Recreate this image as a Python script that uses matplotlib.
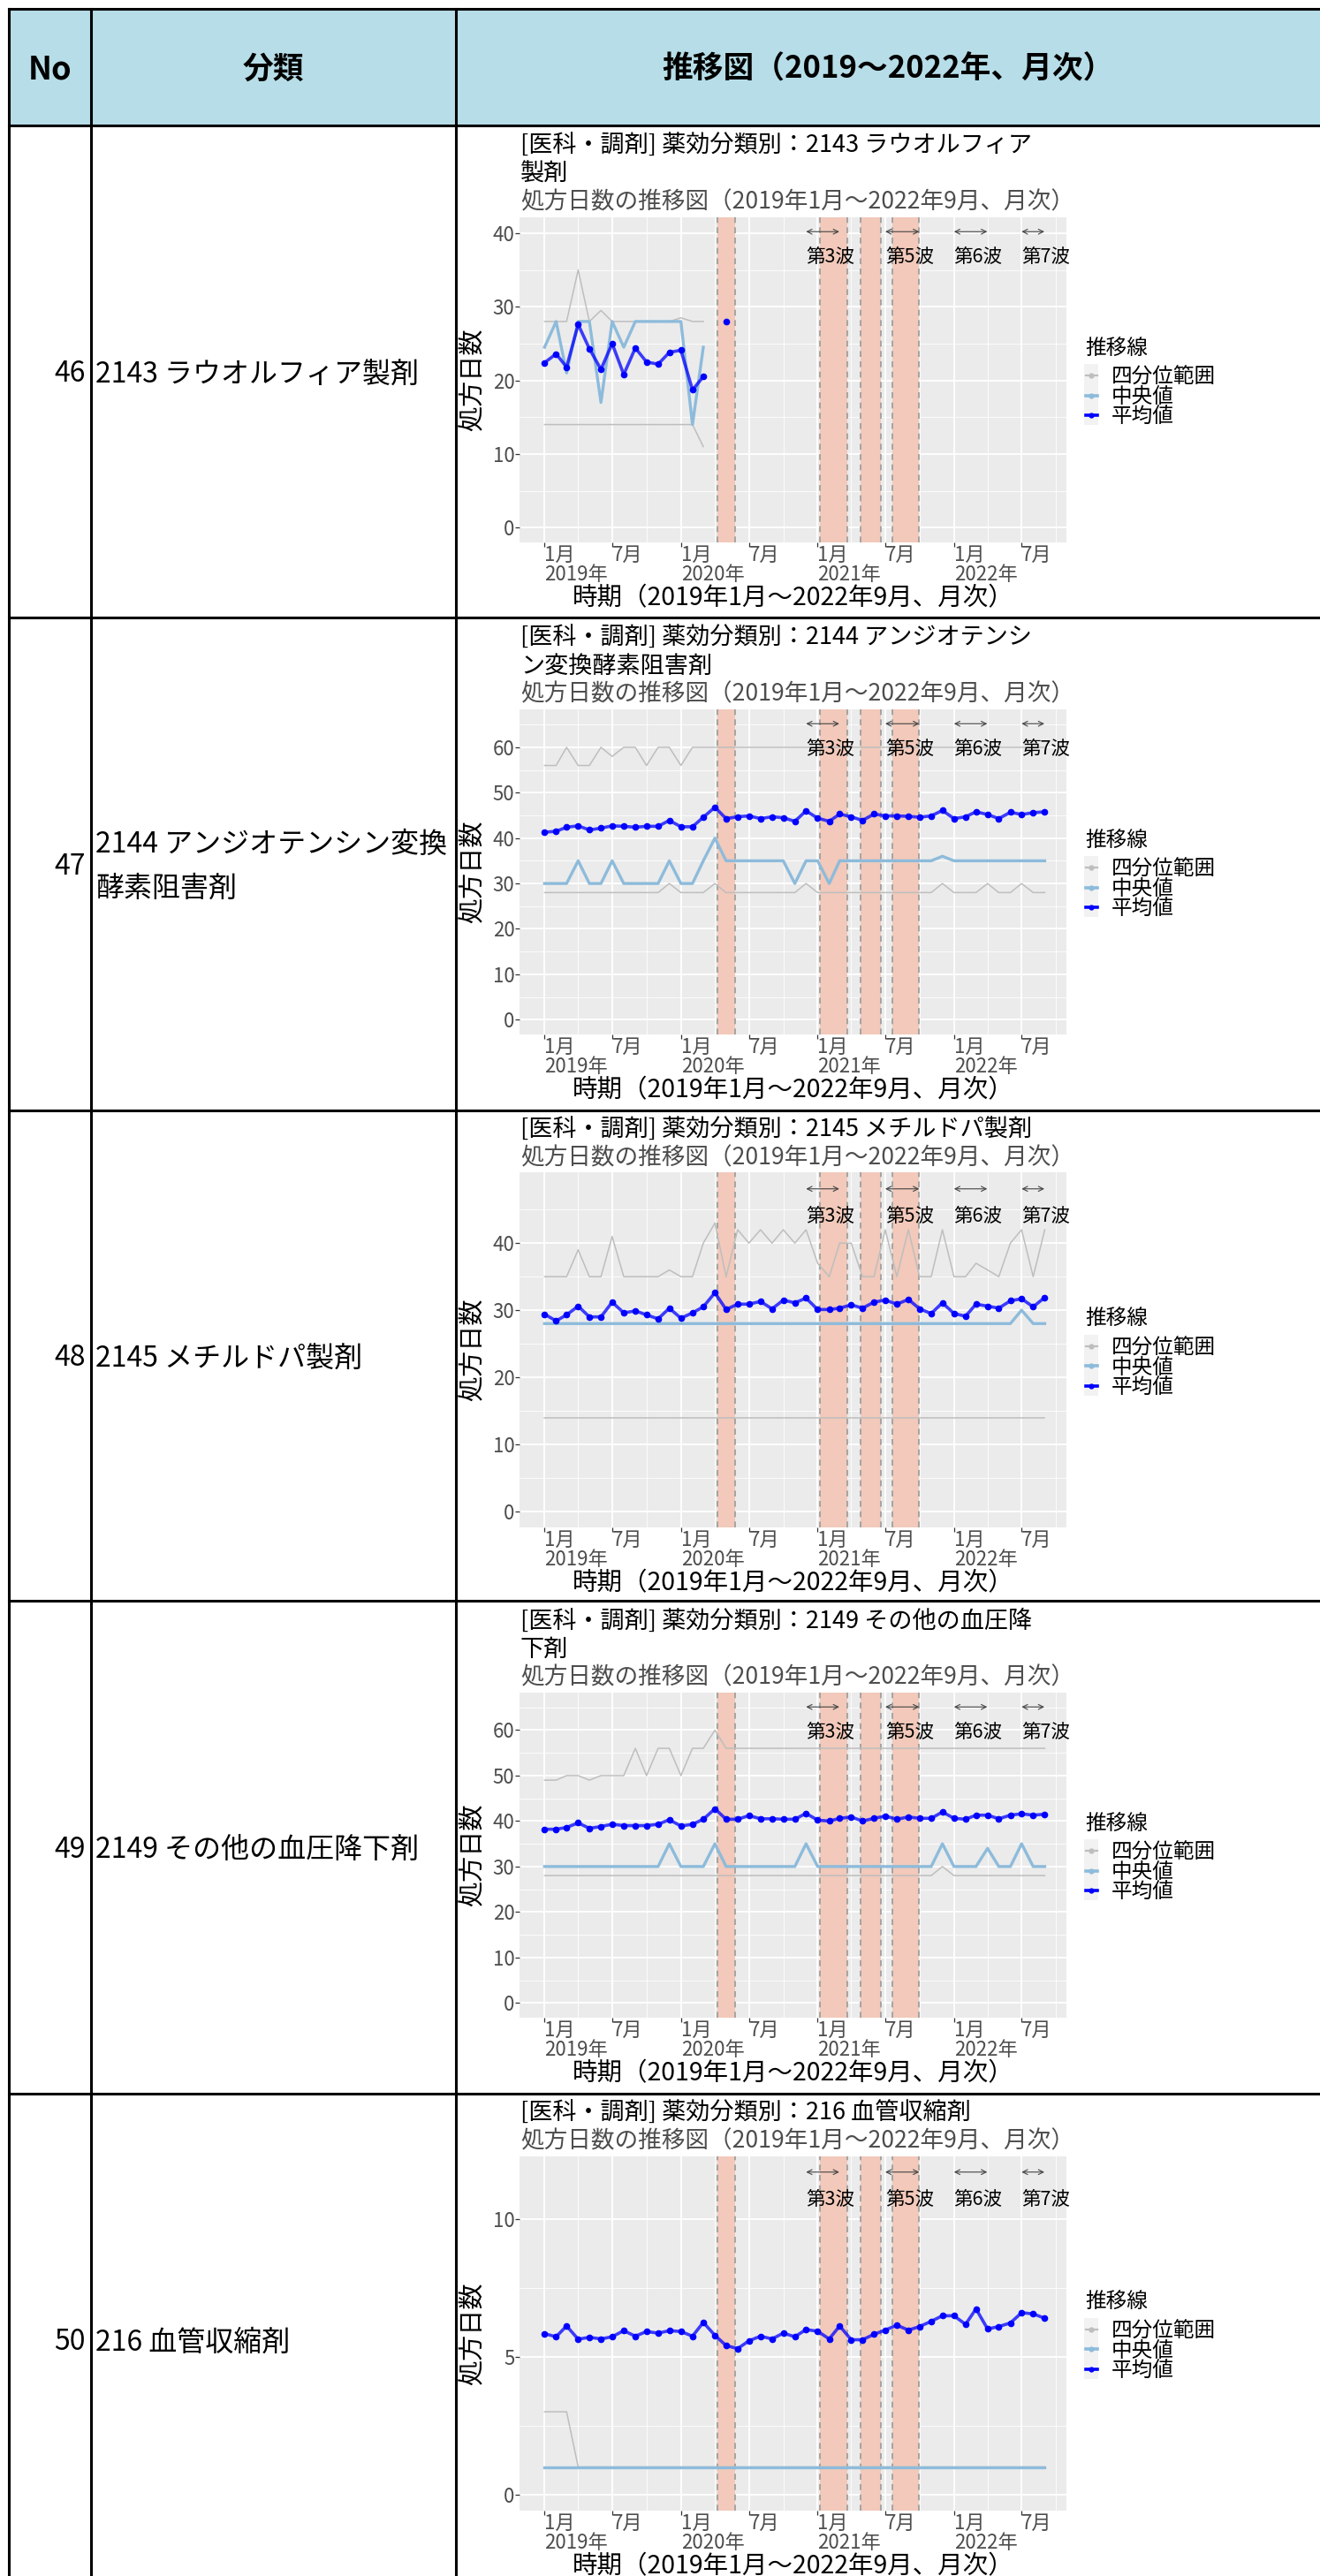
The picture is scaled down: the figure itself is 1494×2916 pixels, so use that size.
import numpy as np
import pandas as pd
import matplotlib
matplotlib.use("Agg")
import matplotlib.pyplot as plt
import matplotlib.dates as mdates
import matplotlib.transforms as mtransforms
from matplotlib.lines import Line2D
from matplotlib.patches import Rectangle

plt.rcParams["font.family"] = ["Noto Sans CJK JP", "DejaVu Sans"]

# ---- data ----
months = pd.date_range("2019-01-01", "2022-09-01", freq="MS")

nos = [46, 47, 48, 49, 50]
bunrui = ["2143 ラウオルフィア製剤",
          "2144 アンジオテンシン変換\n酵素阻害剤",
          "2145 メチルドパ製剤",
          "2149 その他の血圧降下剤",
          "216 血管収縮剤"]
titles = ["[医科・調剤] 薬効分類別：2143 ラウオルフィア\n製剤",
          "[医科・調剤] 薬効分類別：2144 アンジオテンシ\nン変換酵素阻害剤",
          "[医科・調剤] 薬効分類別：2145 メチルドパ製剤",
          "[医科・調剤] 薬効分類別：2149 その他の血圧降\n下剤",
          "[医科・調剤] 薬効分類別：216 血管収縮剤"]
subtitle = "処方日数の推移図（2019年1月～2022年9月、月次）"
xlabel = "時期（2019年1月～2022年9月、月次）"
ylabel = "処方日数"
legend_title = "推移線"
legend_labels = ["四分位範囲", "中央値", "平均値"]

# 2143 (data stops in 2020)
mean_2143 = [22.4, 23.6, 21.8, 27.6, 24.3, 21.5, 25.0, 20.8, 24.4, 22.5, 22.2, 23.8, 24.1, 18.7, 20.5, None, 28.0]
median_2143 = [24.5, 28, 21, 28, 28, 17, 28, 24.5, 28, 28, 28, 28, 28, 14, 24.5]
q1_2143 = [14, 14, 14, 14, 14, 14, 14, 14, 14, 14, 14, 14, 14, 14, 11]
q3_2143 = [28, 28, 28, 35, 28, 29.5, 28, 28, 28, 28, 28, 28, 28.5, 28, 28]

mean_2144 = [41.3, 41.5, 42.4, 42.7, 41.8, 42.2, 42.7, 42.6, 42.4, 42.6,
             42.6, 43.9, 42.5, 42.5, 44.6, 46.8, 44.3, 44.7, 44.9, 44.3,
             44.7, 44.5, 43.7, 46.0, 44.4, 43.7, 45.3, 44.7, 43.9, 45.3,
             44.9, 44.9, 44.8, 44.6, 44.9, 46.1, 44.3, 44.7, 45.8, 45.2,
             44.3, 45.7, 45.2, 45.6, 45.8]
median_2144 = [30, 30, 30, 35, 30, 30, 35, 30, 30, 30,
               30, 35, 30, 30, 35, 40, 35, 35, 35, 35,
               35, 35, 30, 35, 35, 30, 35, 35, 35, 35,
               35, 35, 35, 35, 35, 36, 35, 35, 35, 35,
               35, 35, 35, 35, 35]
q1_2144 = [28, 28, 28, 28, 28, 28, 28, 28, 28, 28,
           28, 30, 28, 28, 28, 30, 28, 28, 28, 28,
           28, 28, 28, 30, 28, 28, 28, 28, 28, 28,
           28, 28, 28, 28, 28, 30, 28, 28, 28, 30,
           28, 28, 30, 28, 28]
q3_2144 = [56, 56, 60, 56, 56, 60, 58, 60, 60, 56,
           60, 60, 56, 60, 60, 60, 60, 60, 60, 60,
           60, 60, 60, 60, 60, 60, 60, 60, 60, 60,
           60, 60, 60, 60, 60, 60, 60, 60, 60, 60,
           60, 60, 60, 60, 60]

mean_2145 = [29.4, 28.4, 29.3, 30.6, 29.0, 29.0, 31.2, 29.6, 29.9, 29.3,
             28.7, 30.3, 28.8, 29.6, 30.5, 32.6, 30.1, 30.9, 30.9, 31.3,
             30.2, 31.5, 31.1, 31.8, 30.1, 30.1, 30.3, 30.8, 30.3, 31.2,
             31.5, 30.9, 31.6, 30.2, 29.5, 31.1, 29.5, 29.1, 30.9, 30.6,
             30.3, 31.4, 31.7, 30.5, 31.9]
median_2145 = [28, 28, 28, 28, 28, 28, 28, 28, 28, 28,
               28, 28, 28, 28, 28, 28, 28, 28, 28, 28,
               28, 28, 28, 28, 28, 28, 28, 28, 28, 28,
               28, 28, 28, 28, 28, 28, 28, 28, 28, 28,
               28, 28, 30, 28, 28]
q1_2145 = [14, 14, 14, 14, 14, 14, 14, 14, 14, 14,
           14, 14, 14, 14, 14, 14, 14, 14, 14, 14,
           14, 14, 14, 14, 14, 14, 14, 14, 14, 14,
           14, 14, 14, 14, 14, 14, 14, 14, 14, 14,
           14, 14, 14, 14, 14]
q3_2145 = [35, 35, 35, 39, 35, 35, 41, 35, 35, 35,
           35, 36, 35, 35, 40, 43, 35, 42, 40, 42,
           40, 42, 40, 42, 37, 35, 40, 40, 35, 35,
           42, 35, 42, 35, 35, 42, 35, 35, 37, 36,
           35, 40, 42, 35, 42]

mean_2149 = [38.2, 38.2, 38.6, 39.6, 38.4, 38.8, 39.3, 39.0, 39.0, 39.0,
             39.3, 40.3, 38.9, 39.3, 40.4, 42.7, 40.4, 40.4, 41.2, 40.5,
             40.5, 40.4, 40.4, 41.7, 40.2, 40.0, 40.6, 40.9, 40.0, 40.6,
             41.1, 40.4, 40.9, 40.6, 40.6, 42.0, 40.6, 40.4, 41.3, 41.3,
             40.5, 41.3, 41.6, 41.3, 41.5]
median_2149 = [30, 30, 30, 30, 30, 30, 30, 30, 30, 30,
               30, 35, 30, 30, 30, 35, 30, 30, 30, 30,
               30, 30, 30, 35, 30, 30, 30, 30, 30, 30,
               30, 30, 30, 30, 30, 35, 30, 30, 30, 34,
               30, 30, 35, 30, 30]
q1_2149 = [28, 28, 28, 28, 28, 28, 28, 28, 28, 28,
           28, 28, 28, 28, 28, 28, 28, 28, 28, 28,
           28, 28, 28, 28, 28, 28, 28, 28, 28, 28,
           28, 28, 28, 28, 28, 30, 28, 28, 28, 28,
           28, 28, 28, 28, 28]
q3_2149 = [49, 49, 50, 50, 49, 50, 50, 50, 56, 50,
           56, 56, 50, 56, 56, 60, 56, 56, 56, 56,
           56, 56, 56, 56, 56, 56, 56, 56, 56, 56,
           56, 56, 56, 56, 56, 56, 56, 56, 56, 56,
           56, 56, 56, 56, 56]

mean_216 = [5.83, 5.72, 6.11, 5.63, 5.70, 5.64, 5.72, 5.94, 5.74, 5.91,
            5.85, 5.94, 5.91, 5.74, 6.24, 5.77, 5.40, 5.29, 5.57, 5.74,
            5.64, 5.85, 5.72, 5.98, 5.92, 5.64, 6.11, 5.61, 5.61, 5.81,
            5.96, 6.14, 5.96, 6.09, 6.28, 6.48, 6.48, 6.17, 6.73, 6.00,
            6.09, 6.22, 6.59, 6.55, 6.39]
median_216 = [1, 1, 1, 1, 1, 1, 1, 1, 1, 1,
              1, 1, 1, 1, 1, 1, 1, 1, 1, 1,
              1, 1, 1, 1, 1, 1, 1, 1, 1, 1,
              1, 1, 1, 1, 1, 1, 1, 1, 1, 1,
              1, 1, 1, 1, 1]
q1_216 = [1, 1, 1, 1, 1, 1, 1, 1, 1, 1,
          1, 1, 1, 1, 1, 1, 1, 1, 1, 1,
          1, 1, 1, 1, 1, 1, 1, 1, 1, 1,
          1, 1, 1, 1, 1, 1, 1, 1, 1, 1,
          1, 1, 1, 1, 1]
q3_216 = [3, 3, 3, 1, 1, 1, 1, 1, 1, 1,
          1, 1, 1, 1, 1, 1, 1, 1, 1, 1,
          1, 1, 1, 1, 1, 1, 1, 1, 1, 1,
          1, 1, 1, 1, 1, 1, 1, 1, 1, 1,
          1, 1, 1, 1, 1]

means = [mean_2143, mean_2144, mean_2145, mean_2149, mean_216]
medians = [median_2143, median_2144, median_2145, median_2149, median_216]
q1s = [q1_2143, q1_2144, q1_2145, q1_2149, q1_216]
q3s = [q3_2143, q3_2144, q3_2145, q3_2149, q3_216]

# emergency declarations (shaded) and wave periods (arrows)
emerg_start = ["2020-04-07", "2021-01-08", "2021-04-25", "2021-07-20"]
emerg_end = ["2020-05-25", "2021-03-21", "2021-06-20", "2021-09-30"]
wave_labels = ["第3波", "第5波", "第6波", "第7波"]
wave_start = ["2020-12-01", "2021-07-01", "2022-01-01", "2022-07-01"]
wave_end = ["2021-02-28", "2021-09-30", "2022-03-31", "2022-08-31"]

# per chart: height of the wave arrows, y tick step and last labelled tick
arrow_y = [40.2, 65.2, 48.1, 65.1, 11.69]
y_step = [10, 10, 10, 10, 5]
y_top_tick = [40, 60, 40, 60, 10]

# ---- layout (pixels) ----
W, H = 1494, 2916
fig = plt.figure(figsize=(W / 100, H / 100), dpi=100)


def fx(x):
    return x / W


def fy(y):
    return 1 - y / H


def ftext(x, yc, s, size, **kw):
    # place text so that the glyphs are visually centred on pixel row yc
    fig.text(fx(x), fy(yc + 0.37 * size * 100 / 72), s, fontsize=size,
             va="baseline", **kw)


def dnum(d):
    return mdates.date2num(pd.Timestamp(d).to_pydatetime())


xm = mdates.date2num(months.to_pydatetime())
x_left, x_right = dnum("2018-10-26"), dnum("2022-10-29")
major_ticks = [d for d in months if d.month in (1, 7)]
minor_ticks = [d for d in pd.date_range("2019-04-01", "2022-10-01", freq="MS") if d.month in (4, 10)]
major_labels = [f"{d.month}月\n{d.year}年" if d.month == 1 else f"{d.month}月" for d in major_ticks]

LEFT, TOP = 10, 10
COL1, COL2 = 103, 516
row_tops = [142, 699, 1257, 1812, 2370]
row_bots = [699, 1257, 1812, 2370, 2927]

# header
fig.add_artist(Rectangle((fx(LEFT), fy(142)), fx(W) - fx(LEFT), (142 - TOP) / H,
                         transform=fig.transFigure, color="#B7DEE8", zorder=0))
ftext((LEFT + COL1) / 2, 76, "No", 26, ha="center", fontweight="bold")
ftext((COL1 + COL2) / 2, 76, "分類", 25, ha="center", fontweight="bold")
ftext((COL2 + W) / 2, 76, "推移図（2019～2022年、月次）", 25, ha="center",
      fontweight="bold")

mean_col = "#0000FF"
med_col = "#8DBBDB"
iqr_col = "#BEBEBE"

for k in range(5):
    top = row_tops[k]
    rc = (top + row_bots[k]) / 2

    # table text
    ftext(97, rc, str(nos[k]), 23, ha="right")
    blines = bunrui[k].split("\n")
    if len(blines) == 1:
        ftext(108, rc, blines[0], 23, ha="left")
    else:
        ftext(108, rc - 25, blines[0], 23, ha="left")
        ftext(108, rc + 25, blines[1], 23, ha="left")

    # chart titles
    tlines = titles[k].split("\n")
    if len(tlines) == 2:
        ty = [top + 21, top + 53]
        sub_y = top + 85
        ptop = top + 103.5
    else:
        ty = [top + 20]
        sub_y = top + 52
        ptop = top + 70.5
    pbot = top + 472
    for t, yy in zip(tlines, ty):
        ftext(589, yy, t, 19.5, ha="left", color="black")
    ftext(589, sub_y, subtitle, 19.2, ha="left", color="#4D4D4D")

    ax = fig.add_axes([fx(588), fy(pbot), (1207 - 588) / W, (pbot - ptop) / H])
    ax.set_facecolor("#EBEBEB")
    for s in ax.spines.values():
        s.set_visible(False)
    A = arrow_y[k]
    st = y_step[k]
    yt = np.arange(0, y_top_tick[k] + st / 2, st)
    ax.set_yticks(yt)
    ax.set_yticklabels([f"{v:g}" for v in yt])
    ax.set_yticks(np.arange(st / 2, y_top_tick[k] + st, st), minor=True)
    ax.set_xticks(mdates.date2num([d.to_pydatetime() for d in major_ticks]))
    ax.set_xticklabels(major_labels)
    ax.set_xticks(mdates.date2num([d.to_pydatetime() for d in minor_ticks]), minor=True)
    ax.grid(which="major", color="white", lw=1.3)
    ax.grid(which="minor", color="white", lw=0.6)
    ax.set_axisbelow(True)
    ax.tick_params(which="major", length=3.5, width=0.9, color="#333333",
                   labelsize=16, labelcolor="#4D4D4D", pad=0.5)
    ax.tick_params(axis="x", which="major", pad=-1.5)
    ax.tick_params(which="minor", length=0)
    for lab in ax.get_xticklabels():
        lab.set_ha("left")
        lab.set_linespacing(0.95)

    for s, e in zip(emerg_start, emerg_end):
        ax.axvspan(dnum(s), dnum(e), color="#F2C9BA", lw=0, zorder=1)
        ax.axvline(dnum(s), color="#9A9A9A", lw=1.2, ls=(0, (4, 3)), zorder=1.5)
        ax.axvline(dnum(e), color="#9A9A9A", lw=1.2, ls=(0, (4, 3)), zorder=1.5)

    m = np.array(means[k], dtype=float)
    md = np.array(medians[k], dtype=float)
    lo = np.array(q1s[k], dtype=float)
    hi = np.array(q3s[k], dtype=float)
    ax.plot(xm[:len(hi)], hi, color=iqr_col, lw=1.1, zorder=2)
    ax.plot(xm[:len(lo)], lo, color=iqr_col, lw=1.1, zorder=2)
    ax.plot(xm[:len(md)], md, color=med_col, lw=2.4, zorder=3)
    ax.plot(xm[:len(m)], m, color=mean_col, alpha=0.75, lw=2.6, zorder=4)
    ax.plot(xm[:len(m)], m, "o", color=mean_col, ms=4.5, zorder=5)

    lab_tr = mtransforms.offset_copy(ax.transData, fig=fig, x=0, y=-0.37 * 15.5, units="points")
    for lab, s, e in zip(wave_labels, wave_start, wave_end):
        ax.annotate("", xy=(dnum(e), A), xytext=(dnum(s), A),
                    arrowprops=dict(arrowstyle="<->", color="#444444", lw=0.8,
                                    shrinkA=0, shrinkB=0, mutation_scale=10),
                    zorder=6)
        ax.text(dnum(s), 0.92 * A, lab, ha="left", va="baseline", fontsize=15.5,
                color="black", zorder=6, transform=lab_tr)

    # limits last so that ticks do not widen them
    ax.set_ylim(-0.05 * A, 1.05 * A)
    ax.set_xlim(x_left, x_right)

    # axis titles
    ftext(897.5, pbot + 61, xlabel, 20.5, ha="center")
    fig.text(fx(536), fy((ptop + pbot) / 2), ylabel, ha="center", va="center",
             rotation=90, fontsize=21)

    # legend
    cy = (ptop + pbot) / 2
    ftext(1228, cy - 38, legend_title, 17, ha="left")
    fig.add_artist(Rectangle((fx(1227), fy(cy + 51.5)), (1243 - 1227) / W, 69 / H,
                             transform=fig.transFigure, color="#F2F2F2", lw=0))
    key_styles = [(iqr_col, 1.6), (med_col, 2.6), (mean_col, 2.6)]
    for j, (lab, (c, lw)) in enumerate(zip(legend_labels, key_styles)):
        yy = cy - 4.5 + 22.5 * j
        fig.add_artist(Line2D([fx(1228.5), fx(1241.5)], [fy(yy), fy(yy)],
                              transform=fig.transFigure, color=c, lw=lw))
        fig.add_artist(Line2D([fx(1235)], [fy(yy)], transform=fig.transFigure,
                              marker="o", ms=3.5, color=c, lw=0))
        ftext(1258, yy, lab, 17, ha="left")

# table grid
lw_t = 2.2
for yy in [TOP] + row_tops:
    fig.add_artist(Line2D([fx(LEFT), fx(W)], [fy(yy), fy(yy)], transform=fig.transFigure,
                          color="black", lw=lw_t, zorder=10))
for xx in [LEFT, COL1, COL2]:
    fig.add_artist(Line2D([fx(xx), fx(xx)], [fy(TOP), fy(H)], transform=fig.transFigure,
                          color="black", lw=lw_t, zorder=10))

fig.savefig("out.png", dpi=100)
